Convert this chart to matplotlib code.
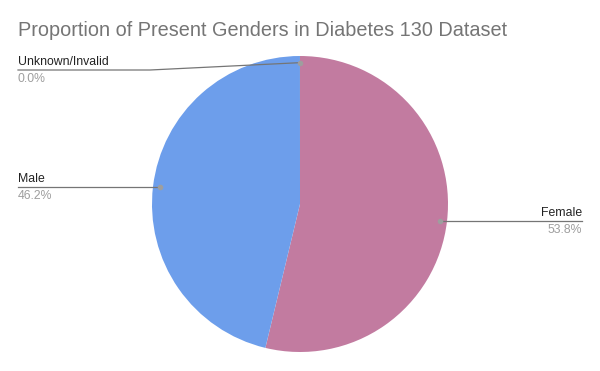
import numpy as np
import matplotlib.pyplot as plt

# Data
labels = ["Female", "Male", "Unknown/Invalid"]
counts = [54708, 47055, 3]
colors = ["#c27ba0", "#6d9eeb", "#ffab40"]
title = "Proportion of Present Genders in Diabetes 130 Dataset"

plt.rcParams['font.family'] = ['Liberation Sans', 'DejaVu Sans']

W, H = 600, 371
fig = plt.figure(figsize=(6, 3.71), dpi=100)

# pie axes: radius 148px, centre (300, 204)
cx, cy, R = 300, 204, 148
ax = fig.add_axes([(cx - R) / W, (H - cy - R) / H, 2 * R / W, 2 * R / H])
wedges, _ = ax.pie(counts, colors=colors, startangle=90, counterclock=False,
                   wedgeprops=dict(linewidth=0))
ax.set_xlim(-1, 1)
ax.set_ylim(-1, 1)
ax.set_aspect("equal")
ax.axis("off")

fig.text(18 / W, 1 - 30.5 / H, title, fontsize=14.3, color="#757575",
         ha="left", va="center")

total = sum(counts)
pcts = [c / total * 100 for c in counts]

# leader line layout: (label side, line y in px or None = level with dot, bend x)
layout = {
    "Female": ("right", None, None),
    "Male": ("left", None, None),
    "Unknown/Invalid": ("left", 70, 150),
}


def px_to_data(x, y):
    return (x - cx) / R, (cy - y) / R


for w, lab, p in zip(wedges, labels, pcts):
    mid = np.deg2rad((w.theta1 + w.theta2) / 2)
    r = 0.955
    dx, dy = r * np.cos(mid), r * np.sin(mid)
    side, ly, bend = layout[lab]
    if ly is None:
        ly = cy - dy * R
    _, ldy = px_to_data(0, ly)
    if side == "left":
        xend = px_to_data(18, 0)[0]
        xb = px_to_data(bend, 0)[0] if bend else dx
        xs = [dx, xb, xend]
        ys = [dy, ldy, ldy]
        tx, ha = 18, "left"
    else:
        xend = px_to_data(582, 0)[0]
        xs = [dx, xend]
        ys = [dy, ldy]
        tx, ha = 582, "right"
    ax.plot(xs, ys, color="#757575", lw=0.9, clip_on=False)
    ax.plot([dx], [dy], "o", color="#9e9e9e", ms=3, clip_on=False)
    fig.text(tx / W, 1 - (ly - 8) / H, lab, fontsize=8.8, color="#222222",
             ha=ha, va="center")
    fig.text(tx / W, 1 - (ly + 9) / H, f"{p:.1f}%", fontsize=8.8,
             color="#9e9e9e", ha=ha, va="center")

fig.savefig("out.png", dpi=100, facecolor="white")
